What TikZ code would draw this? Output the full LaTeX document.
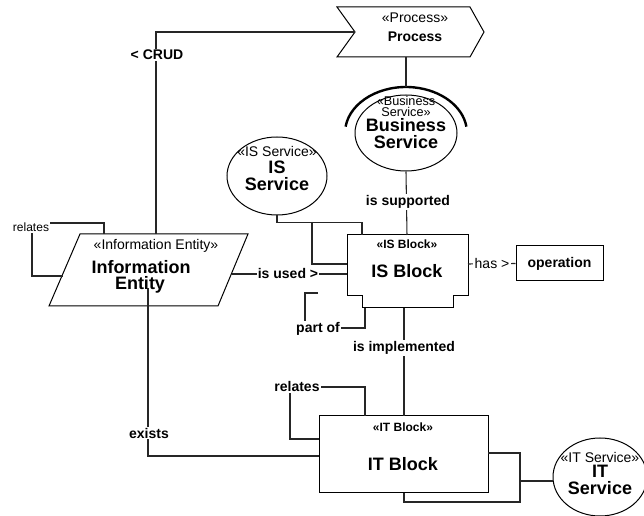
\documentclass[tikz,border=0pt]{standalone}
\usepackage{fontspec}
\setmainfont{Liberation Sans}
\usepackage{tikz}
\usetikzlibrary{shapes.geometric}

\begin{document}
\begin{tikzpicture}[x=0.75pt,y=0.75pt,yscale=-1,xscale=1,
  conn/.style={draw=black!85, line width=0.8pt},
  shp/.style={draw=black, line width=0.75pt, fill=white},
  lbl/.style={fill=white, inner sep=1pt, font=\bfseries\fontsize{10.5}{12}\selectfont},
  lblr/.style={fill=white, inner sep=1pt, font=\fontsize{10.5}{12}\selectfont},
  stereo/.style={inner sep=0.75pt, font=\fontsize{10.5}{12}\selectfont},
  stereob/.style={inner sep=0.75pt, font=\bfseries\fontsize{9}{11}\selectfont},
  bigname/.style={inner sep=0.75pt, font=\bfseries\fontsize{13.5}{15}\selectfont}]
\useasboundingbox (0,0) rectangle (644,516);

%Shape: Chevron [Process]
\draw[shp] (337,7) -- (470,7) -- (484,32) -- (470,57) -- (337,57) -- (355,32) coordinate (pr-in) -- cycle ;
\coordinate (pr-s) at (406,57);
%Shape: Ellipse [Business Service]
\node[shp, ellipse, inner sep=0, minimum width=76.5pt, minimum height=57pt] (bsvc) at (406,133) {};
\draw[line width=1.8pt] (bsvc.center) ++(-172:61 and 46) arc[start angle=-172, end angle=-8, x radius=61, y radius=46] ;
\coordinate (bsvc-top) at (406,87);
%Shape: Ellipse [IS Service]
\node[shp, ellipse, inner sep=0, minimum width=75pt, minimum height=58.5pt] (issvc) at (277,176) {};
%Shape: Parallelogram [Information Entity]
\draw[shp] (80,234) -- (248,234) -- (218,306) -- (49,306) -- cycle ;
\coordinate (ie-crud) at (156,234);
\coordinate (ie-rel) at (104,234);
\coordinate (ie-w) at (63,276);
\coordinate (ie-e) at (232,274);
\coordinate (ie-in) at (148,288);
%Shape: Notched block [IS Block]
\draw[shp] (347,235) -- (468,235) -- (468,296) -- (453,296) -- (453,308) -- (362,308) -- (362,296) -- (347,296) -- cycle ;
\coordinate (isb-n) at (407,235);
\coordinate (isb-t1) at (362,235);
\coordinate (isb-w) at (347,264);
\coordinate (isb-w2) at (347,274);
\coordinate (isb-e) at (468,264);
\coordinate (isb-s) at (404,308);
\coordinate (isb-s2) at (365,308);
\coordinate (isb-part) at (318,293);
%Shape: Rectangle [operation]
\node[shp, minimum width=65.25pt, minimum height=26.25pt, inner sep=0, font=\bfseries\fontsize{10.5}{12}\selectfont] (oper) at (559.5,263.5) {operation};
%Shape: Rectangle [IT Block]
\node[shp, minimum width=126.75pt, minimum height=57.75pt, inner sep=0] (itb) at (403.5,454.5) {};
%Shape: Ellipse [IT Service]
\node[shp, ellipse, inner sep=0, minimum width=70.5pt, minimum height=58.5pt] (itsvc) at (600,477) {};
\coordinate (itb-rel) at (365,416);
\coordinate (itb-w) at (319,439);
\coordinate (itb-w2) at (319,456);
\coordinate (itb-e) at (488,453);
\coordinate (itb-s) at (404,493);
\coordinate (itsvc-w) at (553,481);

%Connectors
\draw[conn] (pr-s) -- (bsvc-top) ;
\draw[conn] (bsvc.south) -- (isb-n) ;
\draw[conn] (ie-crud) |- (pr-in) ;
\draw[conn] (ie-rel) -- (104,223) -- (32,223) |- (ie-w) ;
\draw[conn] (ie-e) -- (isb-w2) ;
\draw[conn] (issvc.south) -- ++(0,7) -| (isb-t1) ;
\draw[conn] (312,222) |- (isb-w) ;
\draw[conn] (isb-part) -- (305,293) -- (305,328) -| (isb-s2) ;
\draw[conn] (isb-e) -- (oper.west) ;
\draw[conn] (isb-s) -- (404,416) ;
\draw[conn] (ie-in) |- (itb-w2) ;
\draw[conn] (itb-rel) -- (365,387) -- (290,387) |- (itb-w) ;
\draw[conn] (itb-e) -| (520,481) -- (itsvc-w) ;
\draw[conn] (itb-s) -- (404,502) -| (520,481) ;

% Text Node
\node[stereo] (pr-st) at (415,18) {«Process»};
\node[inner sep=0.75pt, font=\bfseries\fontsize{10.5}{12}\selectfont] (pr-nm) at (415,37) {Process};
% Text Node
\node[stereo, inner sep=0, font=\fontsize{9.5}{11}\selectfont] (bs-st1) at (406,101) {«Business};
\node[stereo, inner sep=0, font=\fontsize{9.5}{11}\selectfont] (bs-st2) at (406,112) {Service»};
\node[bigname, inner sep=0] (bs-nm1) at (406,125.5) {Business};
\node[bigname, inner sep=0] (bs-nm2) at (406,142) {Service};
% Text Node
\node[stereo] (is-st) at (277,152) {«IS Service»};
\node[bigname] (is-nm1) at (277,167) {IS};
\node[bigname] (is-nm2) at (277,184) {Service};
% Text Node
\node[stereo] (ie-st) at (156,246) {«Information Entity»};
\node[bigname] (ie-nm1) at (141,267) {Information};
\node[bigname] (ie-nm2) at (140,285) {Entity};
% Text Node
\node[stereob] (isb-st) at (407,244) {«IS Block»};
\node[bigname] (isb-nm) at (407,271) {IS Block};
% Text Node
\node[stereob] (itb-st) at (403,427) {«IT Block»};
\node[bigname] (itb-nm) at (403,464) {IT Block};
% Text Node
\node[stereo] (its-st) at (600,457) {«IT Service»};
\node[bigname] (its-nm1) at (600,471) {IT};
\node[bigname] (its-nm2) at (600,488) {Service};

% Connector labels
\node[lbl] (l-crud) at (157,55) {< CRUD};
\node[lblr, font=\fontsize{9}{11}\selectfont] (l-rel1) at (31,227) {relates};
\node[lbl] (l-used) at (288,273) {is used >};
\node[lbl] (l-supp) at (408,202) {is supported};
\node[lblr] (l-has) at (492,263) {has >};
\node[lbl] (l-part) at (318,329) {part of};
\node[lbl] (l-impl) at (404,348) {is implemented};
\node[lbl] (l-rel2) at (297,387) {relates};
\node[lbl] (l-ex) at (149,433) {exists};

\end{tikzpicture}
\end{document}
